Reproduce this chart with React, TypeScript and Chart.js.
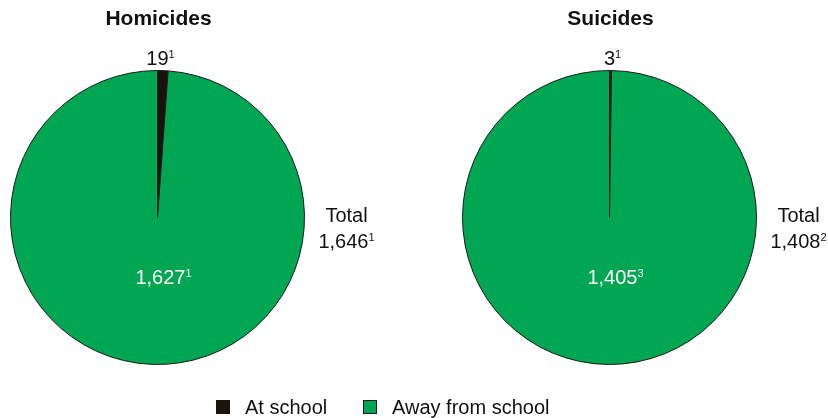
import React, { useEffect, useRef } from "react";
import { Chart, registerables } from "chart.js";

Chart.register(...registerables);

const categories = ["At school", "Away from school"];
const homicideValues = [19, 1627];
const suicideValues = [3, 1405];
const homicideNotes = ["1", "1"];
const suicideNotes = ["1", "3"];
const homicideTotalNote = "1";
const suicideTotalNote = "2";
const sliceColors = ["#1a130b", "#00a651"];
const FONT = "'Liberation Sans', Arial, Helvetica, sans-serif";

function drawSup(ctx: CanvasRenderingContext2D, text: string, sup: string, x: number, y: number, size: number, color: string) {
  ctx.font = `${size}px ${FONT}`;
  const w1 = ctx.measureText(text).width;
  ctx.font = `${Math.round(size * 0.55)}px ${FONT}`;
  const w2 = ctx.measureText(sup).width;
  const start = x - (w1 + w2) / 2;
  ctx.fillStyle = color;
  ctx.textAlign = "left";
  ctx.textBaseline = "alphabetic";
  ctx.font = `${size}px ${FONT}`;
  ctx.fillText(text, start, y);
  ctx.font = `${Math.round(size * 0.55)}px ${FONT}`;
  ctx.fillText(sup, start + w1, y - size * 0.33);
}

function makeLabelPlugin(title: string, notes: string[], totalNote: string) {
  return {
    id: "pieLabels",
    afterDraw(chart: any) {
      const ctx = chart.ctx as CanvasRenderingContext2D;
      const arc = chart.getDatasetMeta(0).data[0] as any;
      const cx = arc.x;
      const cy = arc.y;
      const vals = chart.data.datasets[0].data as number[];
      const total = vals.reduce((a: number, b: number) => a + b, 0);
      ctx.save();
      ctx.fillStyle = "#111";
      ctx.textAlign = "center";
      ctx.textBaseline = "alphabetic";
      ctx.font = `bold 21px ${FONT}`;
      ctx.fillText(title, cx + 1, cy - 193);
      drawSup(ctx, vals[0].toLocaleString("en-US"), notes[0], cx + 3, cy - 153, 20, "#111");
      ctx.font = `20px ${FONT}`;
      ctx.textAlign = "center";
      ctx.fillStyle = "#111";
      ctx.fillText("Total", cx + 189, cy + 4);
      drawSup(ctx, total.toLocaleString("en-US"), totalNote, cx + 189, cy + 30, 20, "#111");
      drawSup(ctx, vals[1].toLocaleString("en-US"), notes[1], cx + 6, cy + 66, 20, "#ffffff");
      ctx.restore();
    },
  };
}

function PieChart(props: { values: number[]; title: string; notes: string[]; totalNote: string; left: number; padLeft: number }) {
  const ref = useRef<HTMLCanvasElement | null>(null);
  useEffect(() => {
    if (!ref.current) return;
    const chart = new Chart(ref.current, {
      type: "pie",
      data: {
        labels: categories,
        datasets: [
          {
            data: props.values,
            backgroundColor: sliceColors,
            borderColor: "#1a1a1a",
            borderWidth: 1,
          },
        ],
      },
      options: {
        responsive: false,
        animation: false,
        layout: { padding: { left: props.padLeft, right: 414 - props.padLeft - 295, top: 70, bottom: 53 } },
        plugins: { legend: { display: false }, tooltip: { enabled: false }, title: { display: false } },
      },
      plugins: [makeLabelPlugin(props.title, props.notes, props.totalNote)],
    } as any);
    return () => chart.destroy();
  }, []);
  return (
    <canvas
      ref={ref}
      width={414}
      height={418}
      style={{ position: "absolute", left: props.left, top: 0, width: 414, height: 418 }}
    />
  );
}

export default function App() {
  useEffect(() => {
    document.body.style.margin = "0";
  }, []);
  const textStyle: React.CSSProperties = {
    position: "absolute",
    top: 396,
    fontFamily: FONT,
    fontSize: 20,
    lineHeight: "22px",
    color: "#111",
    whiteSpace: "nowrap",
  };
  const sq: React.CSSProperties = { position: "absolute", top: 400, width: 14, height: 14, boxSizing: "border-box" };
  return (
    <div style={{ position: "relative", width: 828, height: 418, background: "#fff", overflow: "hidden" }}>
      <PieChart values={homicideValues} title="Homicides" notes={homicideNotes} totalNote={homicideTotalNote} left={0} padLeft={10} />
      <PieChart values={suicideValues} title="Suicides" notes={suicideNotes} totalNote={suicideTotalNote} left={414} padLeft={48} />
      <div style={{ ...sq, left: 216, background: sliceColors[0] }} />
      <div style={{ ...textStyle, left: 245 }}>{categories[0]}</div>
      <div style={{ ...sq, left: 363, background: sliceColors[1], border: "1px solid #1a1a1a" }} />
      <div style={{ ...textStyle, left: 392 }}>{categories[1]}</div>
    </div>
  );
}
